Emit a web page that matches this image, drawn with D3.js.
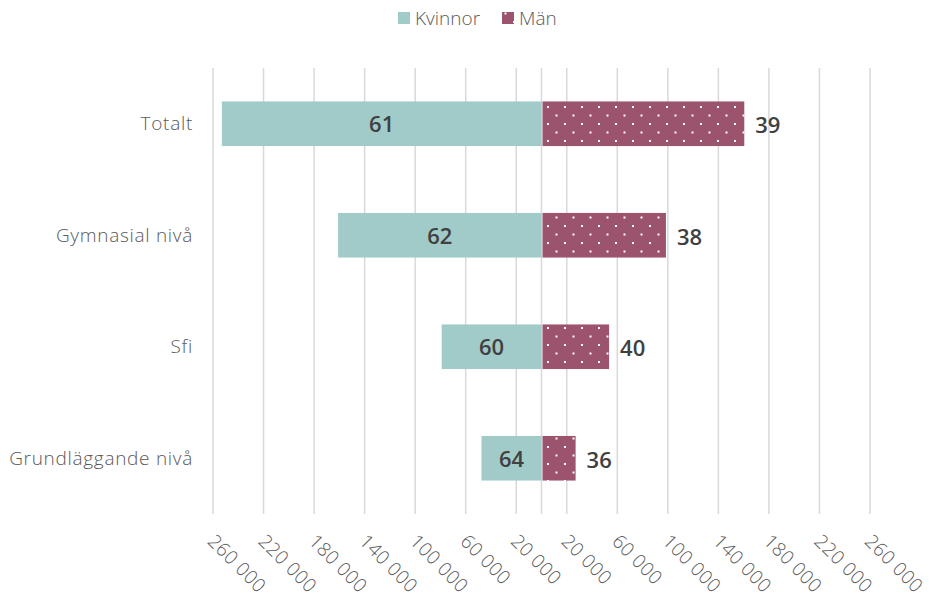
<!DOCTYPE html>
<html>
<head>
<meta charset="utf-8">
<script src="https://cdn.jsdelivr.net/npm/d3@7/dist/d3.min.js"></script>
<style>
  body { margin: 0; background: #fff; }
  svg { display: block; font-family: "Open Sans", sans-serif; }
</style>
</head>
<body>
<svg id="chart"></svg>
<script>
// data
const categories = ["Totalt", "Gymnasial nivå", "Sfi", "Grundläggande nivå"];
const kvinnor = [253000, 161000, 79000, 47500];
const man = [160500, 98500, 53500, 27000];
const kvinnorPct = [61, 62, 60, 64];
const manPct = [39, 38, 40, 36];
const tickValues = [-260000, -220000, -180000, -140000, -100000, -60000, -20000,
                    20000, 60000, 100000, 140000, 180000, 220000, 260000];
const seriesNames = ["Kvinnor", "Män"];

const width = 929, height = 603;
const colors = { kvinnor: "#a0cbc9", man: "#9b536e" };

const svg = d3.select("#chart")
    .attr("width", width)
    .attr("height", height);

// dotted fill for Män
const defs = svg.append("defs");
const pat = defs.append("pattern")
    .attr("id", "dots")
    .attr("patternUnits", "userSpaceOnUse")
    .attr("width", 17)
    .attr("height", 17);
pat.append("rect").attr("width", 17).attr("height", 17).attr("fill", colors.man);
pat.append("rect").attr("x", 3).attr("y", 4).attr("width", 2).attr("height", 2).attr("fill", "#fff");
pat.append("rect").attr("x", 11.5).attr("y", 12.5).attr("width", 2).attr("height", 2).attr("fill", "#fff");

const x = d3.scaleLinear()
    .domain([-260000, 260000])
    .range([213, 870]);

const y = d3.scaleBand()
    .domain(categories)
    .range([68, 514])
    .paddingInner(0.6)
    .paddingOuter(0.3);

// gridlines
const grid = svg.append("g");
grid.selectAll("line")
    .data(tickValues.concat([0]))
    .join("line")
    .attr("x1", d => x(d))
    .attr("x2", d => x(d))
    .attr("y1", 68)
    .attr("y2", 514)
    .attr("stroke", "#d9d9d9")
    .attr("stroke-width", 1.5);

// bars
svg.append("g").selectAll("rect")
    .data(categories)
    .join("rect")
    .attr("x", (d, i) => x(-kvinnor[i]))
    .attr("y", d => y(d))
    .attr("width", (d, i) => x(0) - x(-kvinnor[i]))
    .attr("height", y.bandwidth())
    .attr("fill", colors.kvinnor);

svg.append("g").selectAll("rect")
    .data(categories)
    .join("rect")
    .attr("x", x(0) + 1)
    .attr("y", d => y(d))
    .attr("width", (d, i) => x(man[i]) - x(0) - 1)
    .attr("height", y.bandwidth())
    .attr("fill", "url(#dots)");

// value labels
svg.append("g").selectAll("text")
    .data(categories)
    .join("text")
    .attr("x", (d, i) => (x(-kvinnor[i]) + x(0)) / 2)
    .attr("y", d => y(d) + y.bandwidth() / 2 + 1)
    .attr("dy", "0.35em")
    .attr("text-anchor", "middle")
    .attr("font-size", 22)
    .attr("font-weight", 600)
    .attr("fill", "#404040")
    .text((d, i) => kvinnorPct[i]);

svg.append("g").selectAll("text")
    .data(categories)
    .join("text")
    .attr("x", (d, i) => x(man[i]) + 11)
    .attr("y", d => y(d) + y.bandwidth() / 2 + 2)
    .attr("dy", "0.35em")
    .attr("font-size", 22)
    .attr("font-weight", 600)
    .attr("fill", "#404040")
    .text((d, i) => manPct[i]);

// category labels
svg.append("g").selectAll("text")
    .data(categories)
    .join("text")
    .attr("x", 193)
    .attr("y", d => y(d) + y.bandwidth() / 2)
    .attr("dy", "0.35em")
    .attr("text-anchor", "end")
    .attr("font-size", 19)
    .attr("font-weight", 300)
    .attr("letter-spacing", 0.7)
    .attr("fill", "#595959")
    .text(d => d);

// rotated tick labels
const fmt = v => d3.format(",")(Math.abs(v)).replace(/,/g, " ");
svg.append("g").selectAll("text")
    .data(tickValues)
    .join("text")
    .attr("transform", d => `translate(${x(d) + 3},${533}) rotate(45)`)
    .attr("dy", "0.7em")
    .attr("font-size", 19)
    .attr("font-weight", 300)
    .attr("letter-spacing", 0.4)
    .attr("fill", "#595959")
    .text(fmt);

// legend
const legend = svg.append("g");
const legendItems = [
    { name: seriesNames[0], fill: colors.kvinnor, x: 398 },
    { name: seriesNames[1], fill: "url(#dots)", x: 502 }
];
legendItems.forEach(it => {
    legend.append("rect")
        .attr("x", it.x)
        .attr("y", 12)
        .attr("width", 12)
        .attr("height", 12)
        .attr("fill", it.fill);
    legend.append("text")
        .attr("x", it.x + 17)
        .attr("y", 18)
        .attr("dy", "0.35em")
        .attr("font-size", 19)
        .attr("font-weight", 300)
        .attr("fill", "#595959")
        .text(it.name);
});
</script>
</body>
</html>
